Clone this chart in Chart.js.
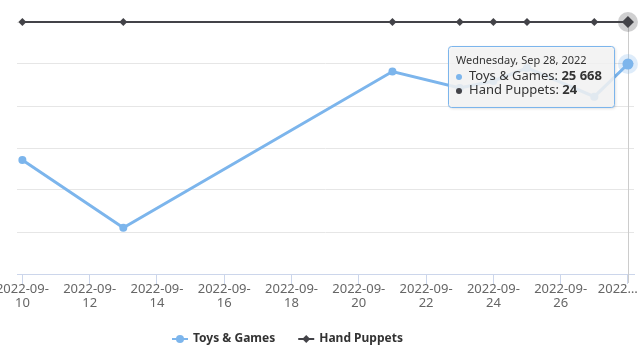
<!DOCTYPE html>
<html><head><meta charset="utf-8">
<script src="https://cdn.jsdelivr.net/npm/chart.js@4.4.1/dist/chart.umd.min.js"></script>
<style>html,body{margin:0;padding:0;background:#fff;overflow:hidden}#wrap{width:640px;height:360px;position:relative}</style>
</head><body><div id="wrap"><canvas id="c" width="640" height="360"></canvas></div>
<script>
// Day of month, September 2022
const dates = [10, 13, 21, 23, 24, 25, 27, 28];
const toysGames = [13930, 5660, 24750, 22730, 23590, 25180, 21670, 25668];
const handPuppets = [24, 24, 24, 24, 24, 24, 24, 24];
const xTickDays = [10, 12, 14, 16, 18, 20, 22, 24, 26, 28];
const yTicksToys = [0, 5133, 10267, 15400, 20533, 25667, 30800];
const seriesNames = ['Toys & Games', 'Hand Puppets'];
const seriesColors = ['#7cb5ec', '#434348'];
const seriesValues = [toysGames, handPuppets];
const hoverIndex = 7;

const FONT = "'Noto Sans', 'DejaVu Sans', sans-serif";
const fmt = v => String(v).replace(/\B(?=(\d{3})+(?!\d))/g, ' ');

const overlay = {
  id: 'overlay',
  beforeDatasetsDraw(chart) {
    const ctx = chart.ctx, a = chart.chartArea;
    const p0 = chart.getDatasetMeta(0).data[hoverIndex];
    const p1 = chart.getDatasetMeta(1).data[hoverIndex];
    ctx.save();
    ctx.strokeStyle = '#cccccc'; ctx.lineWidth = 1;
    const x = Math.round(p0.x) + 0.5;
    ctx.beginPath(); ctx.moveTo(x, a.top); ctx.lineTo(x, a.bottom + 9); ctx.stroke();
    [[p0, 'rgba(124,181,236,0.25)'], [p1, 'rgba(67,67,72,0.25)']].forEach(([p, c]) => {
      ctx.fillStyle = c; ctx.beginPath(); ctx.arc(p.x, p.y, 10, 0, Math.PI * 2); ctx.fill();
    });
    ctx.restore();
  },
  afterDraw(chart) {
    const ctx = chart.ctx;
    ctx.save();
    // legend
    let lx = 172; const ly = 339;
    chart.data.datasets.forEach((ds, i) => {
      ctx.strokeStyle = ds.borderColor; ctx.lineWidth = 2;
      ctx.beginPath(); ctx.moveTo(lx, ly); ctx.lineTo(lx + 16, ly); ctx.stroke();
      ctx.fillStyle = ds.borderColor;
      ctx.beginPath();
      if (i === 0) { ctx.arc(lx + 8, ly, 4, 0, Math.PI * 2); }
      else { ctx.moveTo(lx + 8, ly - 4); ctx.lineTo(lx + 12, ly); ctx.lineTo(lx + 8, ly + 4); ctx.lineTo(lx + 4, ly); ctx.closePath(); }
      ctx.fill();
      ctx.font = "bold 12px " + FONT; ctx.fillStyle = '#333333';
      ctx.textBaseline = 'middle'; ctx.textAlign = 'left';
      ctx.fillText(ds.label, lx + 21, ly);
      lx += 21 + ctx.measureText(ds.label).width + 23;
    });
    // tooltip
    const p0 = chart.getDatasetMeta(0).data[hoverIndex];
    const d = new Date(2022, 8, dates[hoverIndex]);
    const title = d.toLocaleDateString('en-US', {weekday: 'long', month: 'short', day: 'numeric', year: 'numeric'});
    ctx.font = "11px " + FONT;
    const tw = ctx.measureText(title).width;
    const rows = chart.data.datasets.map((ds, i) => {
      ctx.font = "13px " + FONT; const a = ds.label + ': ';
      const aw = ctx.measureText(a).width;
      ctx.font = "bold 13px " + FONT; const b = fmt(seriesValues[i][hoverIndex]);
      const bw = ctx.measureText(b).width;
      return {a, b, aw, bw, c: ds.borderColor};
    });
    const cw = Math.max(tw, ...rows.map(r => 13 + r.aw + r.bw));
    const w = Math.round(cw + 20), h = 61;
    const right = Math.round(p0.x) - 14, top = Math.round(p0.y) - 18;
    const left = right - w;
    ctx.shadowColor = 'rgba(0,0,0,0.18)'; ctx.shadowBlur = 3; ctx.shadowOffsetX = 1; ctx.shadowOffsetY = 1;
    ctx.fillStyle = 'rgba(247,247,247,0.85)';
    ctx.beginPath(); ctx.roundRect(left + 0.5, top + 0.5, w, h, 3); ctx.fill();
    ctx.shadowColor = 'transparent';
    ctx.strokeStyle = seriesColors[0]; ctx.lineWidth = 1; ctx.stroke();
    ctx.textBaseline = 'middle'; ctx.textAlign = 'left';
    ctx.font = "11px " + FONT; ctx.fillStyle = '#333333';
    ctx.fillText(title, left + 8, top + 15);
    rows.forEach((r, i) => {
      const y = top + 30 + i * 14;
      ctx.fillStyle = r.c; ctx.beginPath(); ctx.arc(left + 11, y + 1, 3, 0, Math.PI * 2); ctx.fill();
      ctx.fillStyle = '#333333';
      ctx.font = "13px " + FONT; ctx.fillText(r.a, left + 21, y);
      ctx.font = "bold 13px " + FONT; ctx.fillText(r.b, left + 21 + r.aw, y);
    });
    ctx.restore();
  }
};

new Chart(document.getElementById('c'), {
  type: 'line',
  data: {
    datasets: [
      {
        label: seriesNames[0], yAxisID: 'y',
        data: dates.map((x, i) => ({x, y: toysGames[i]})),
        borderColor: seriesColors[0], backgroundColor: seriesColors[0],
        borderWidth: 3, pointStyle: 'circle',
        pointRadius: c => c.dataIndex === hoverIndex ? 5.5 : 4,
        pointBorderWidth: 0, tension: 0, clip: false
      },
      {
        label: seriesNames[1], yAxisID: 'y1',
        data: dates.map((x, i) => ({x, y: handPuppets[i]})),
        borderColor: seriesColors[1], backgroundColor: seriesColors[1],
        borderWidth: 2, pointStyle: 'rectRot',
        pointRadius: c => c.dataIndex === hoverIndex ? 6 : 4,
        pointBorderWidth: 0, tension: 0, clip: false
      }
    ]
  },
  options: {
    responsive: false, animation: false, devicePixelRatio: 1,
    layout: {padding: {left: 17, right: 5, top: 22, bottom: 46}},
    plugins: {legend: {display: false}, tooltip: {enabled: false}},
    scales: {
      x: {
        type: 'linear', min: 9.84, max: 28.18,
        afterBuildTicks: s => { s.ticks = xTickDays.map(v => ({value: v})); },
        afterFit: s => { s.height = 40; s.paddingLeft = 0; s.paddingRight = 0; },
        grid: {drawOnChartArea: false, drawTicks: true, tickLength: 10, color: '#ccd6eb'},
        border: {color: '#ccd6eb'},
        ticks: {
          autoSkip: false, maxRotation: 0, minRotation: 0, padding: -2,
          color: '#666666', font: {family: FONT, size: 13, lineHeight: 1.08},
          callback: v => v === 28 ? '2022…\u00a0\u00a0\u00a0\u00a0\u00a0\u00a0' : ['2022-09-', String(v)]
        }
      },
      y: {
        min: 0, max: 30800, position: 'left',
        afterBuildTicks: s => { s.ticks = yTicksToys.map(v => ({value: v})); },
        afterFit: s => { s.width = 0; },
        grid: {color: '#e6e6e6', drawTicks: false},
        border: {display: false},
        ticks: {display: false}
      },
      y1: {min: 0, max: 24, display: false}
    }
  },
  plugins: [overlay]
});
</script></body></html>
